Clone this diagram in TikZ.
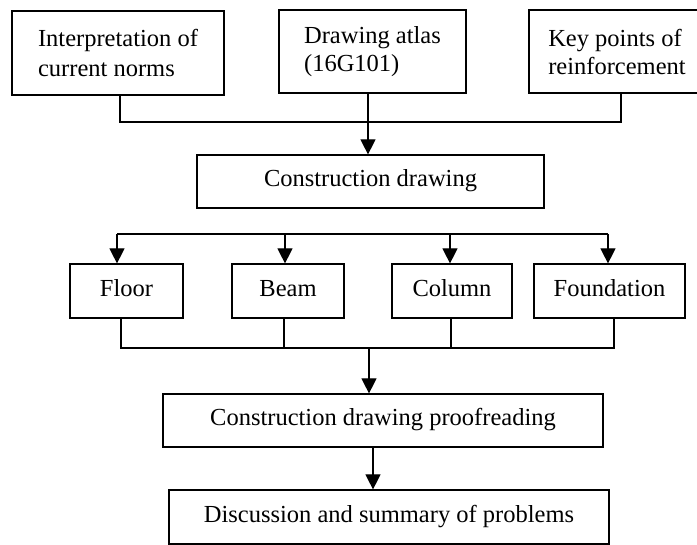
\documentclass[tikz,border=0pt]{standalone}
\usepackage{fontspec}
\setmainfont{Liberation Serif}
\usetikzlibrary{arrows.meta,calc}
\begin{document}
\begin{tikzpicture}[x=1pt,y=-1pt,
  box/.style={draw=black,line width=1.2pt,inner sep=0pt,font=\fontsize{24.5}{30}\selectfont},
  box2/.style={box,font=\fontsize{24.5}{28}\selectfont},
  one/.style={box,text height=17pt,text depth=6pt},
  arr/.style={line width=1.2pt,-{Triangle[length=15pt,width=15pt]}},
  ln/.style={line width=1.2pt}]
\useasboundingbox (0,0) rectangle (697,545);
% top row
\node[box,minimum width=212pt,minimum height=84pt,align=left] (n1) at (118,53) {Interpretation of\\current norms};
\node[box2,minimum width=187pt,minimum height=83pt,align=left] (n2) at (372.5,51.5) {Drawing atlas\\(16G101)};
\node[box2,minimum width=176pt,minimum height=83pt,align=left] (n3) at (617,51.5) {Key points of\\reinforcement};
\node[one,minimum width=347pt,minimum height=53pt] (cd) at (370.5,181.5) {Construction drawing};
% middle row
\node[one,minimum width=113pt,minimum height=54pt] (fl) at (126.5,291) {Floor};
\node[one,minimum width=112pt,minimum height=54pt] (be) at (288,291) {Beam};
\node[one,minimum width=120pt,minimum height=54pt] (co) at (452,291) {Column};
\node[one,minimum width=151pt,minimum height=54pt] (fo) at (609.5,291) {Foundation};
% bottom
\node[one,minimum width=440pt,minimum height=53pt] (pr) at (383,420.5) {Construction drawing proofreading};
\node[one,minimum width=440pt,minimum height=54pt] (di) at (389,517) {Discussion and summary of problems};
% top connectors
\coordinate (j1) at (368,122);
\draw[ln] ($(n1.south)+(2,0)$) |- (j1) -| ($(n3.south)+(4,0)$);
\draw[arr] (n2.south -| j1) -- (cd.north -| j1);
% distribution
\coordinate (d1) at (117,234);
\coordinate (d2) at (285,234);
\coordinate (d3) at (450,234);
\coordinate (d4) at (608,234);
\draw[ln] (d1) -- (d4);
\draw[arr] (d1) -- (d1 |- fl.north);
\draw[arr] (d2) -- (d2 |- be.north);
\draw[arr] (d3) -- (d3 |- co.north);
\draw[arr] (d4) -- (d4 |- fo.north);
% merge
\coordinate (m1) at (121,348);
\coordinate (m2) at (284,348);
\coordinate (m3) at (451,348);
\coordinate (m4) at (614,348);
\coordinate (mc) at (369,348);
\draw[ln] (m1 |- fl.south) -- (m1) -- (m4) -- (m4 |- fo.south);
\draw[ln] (m2 |- be.south) -- (m2);
\draw[ln] (m3 |- co.south) -- (m3);
\draw[arr] (mc) -- (mc |- pr.north);
\coordinate (p1) at (373,447);
\draw[arr] (p1 |- pr.south) -- (p1 |- di.north);
\end{tikzpicture}
\end{document}
